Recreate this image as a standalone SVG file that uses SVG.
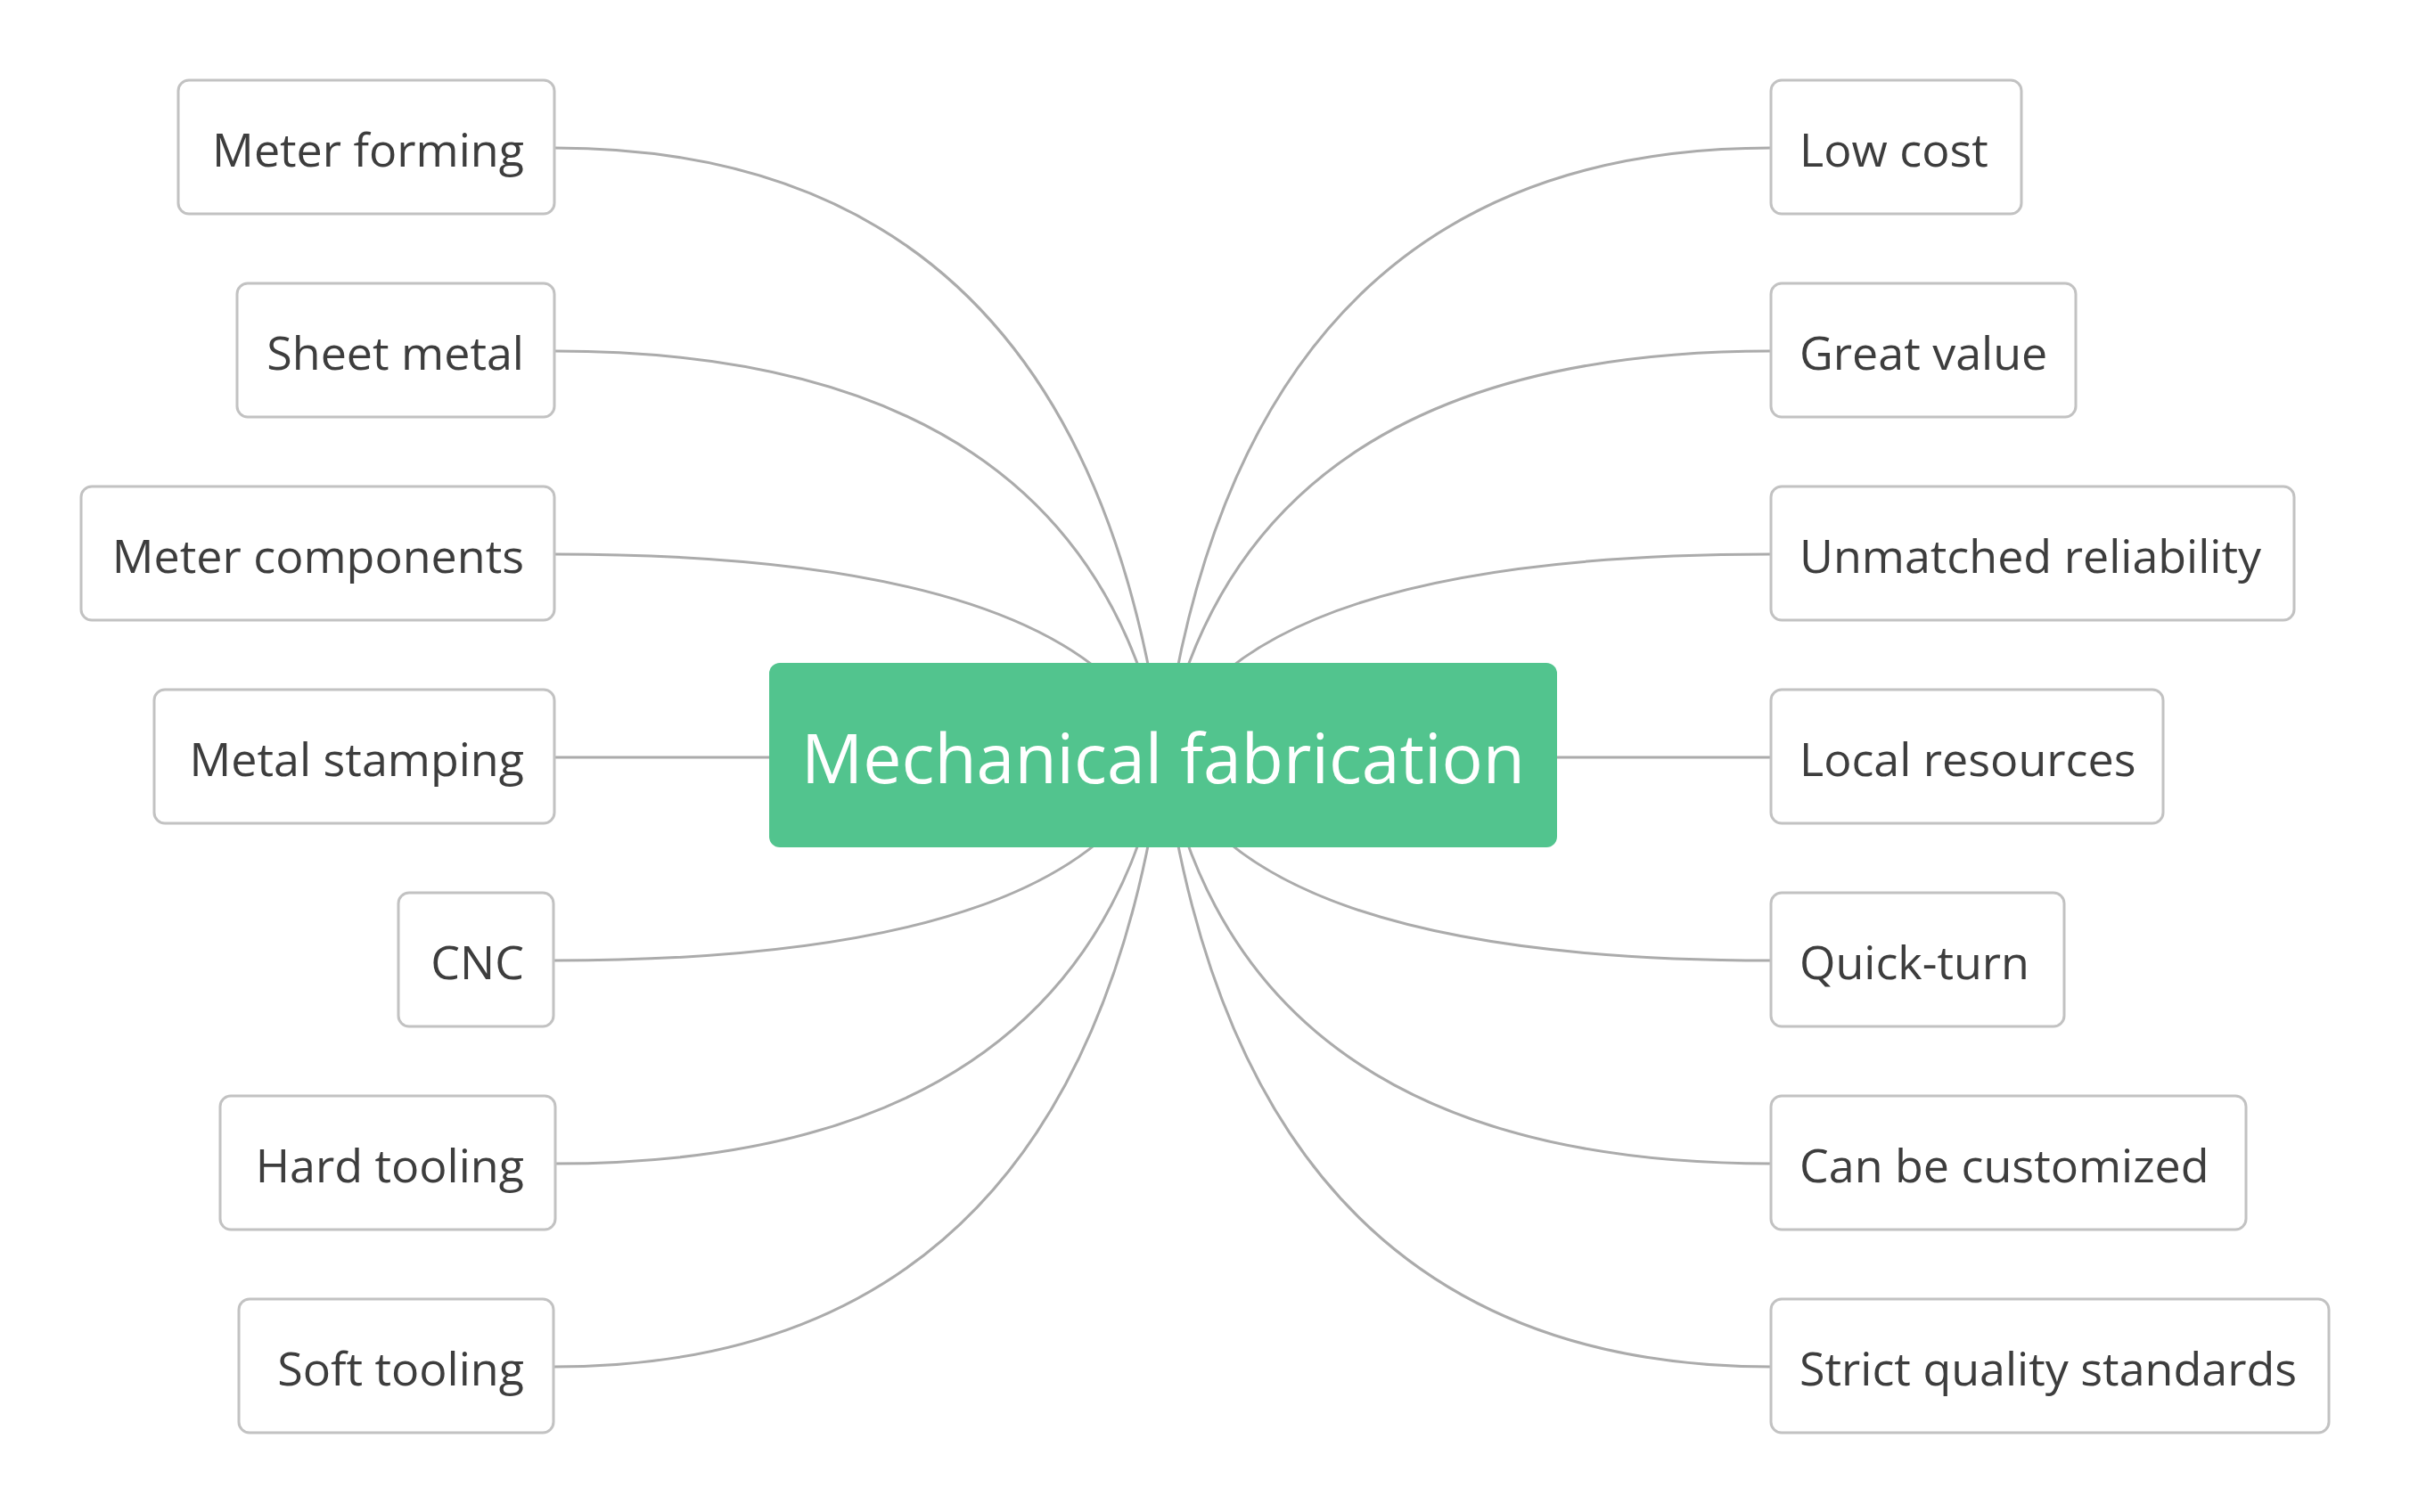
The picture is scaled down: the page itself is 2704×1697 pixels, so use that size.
<svg xmlns="http://www.w3.org/2000/svg" width="2704" height="1697" viewBox="0 0 2704 1697">
<style>
.bg{fill:#ffffff}
.box{fill:#ffffff;stroke:#c2c2c2;stroke-width:3}
.lbl{font-family:"Open Sans","Noto Sans","Liberation Sans",sans-serif;font-size:52px;fill:#3d3d3d}
.l{text-anchor:end}
.r{text-anchor:start}
.conn{fill:none;stroke:#ababab;stroke-width:3}
.root{fill:#52c48e}
.rootlbl{font-family:"Open Sans","Noto Sans","Liberation Sans",sans-serif;font-size:77px;fill:#ffffff;text-anchor:middle}
</style>
<rect class="bg" x="0" y="0" width="2704" height="1697"/>
<g id="connectors">
<path class="conn" d="M622,166 Q1215,166 1305,847"/>
<path class="conn" d="M622,394 Q1215,394 1305,847"/>
<path class="conn" d="M622,622 Q1215,622 1305,847"/>
<path class="conn" d="M622,850 L863,850"/>
<path class="conn" d="M622,1078 Q1215,1078 1305,847"/>
<path class="conn" d="M622,1306 Q1215,1306 1305,847"/>
<path class="conn" d="M622,1534 Q1215,1534 1305,847"/>
<path class="conn" d="M1987,166 Q1395,166 1305,847"/>
<path class="conn" d="M1987,394 Q1395,394 1305,847"/>
<path class="conn" d="M1987,622 Q1395,622 1305,847"/>
<path class="conn" d="M1747,850 L1987,850"/>
<path class="conn" d="M1987,1078 Q1395,1078 1305,847"/>
<path class="conn" d="M1987,1306 Q1395,1306 1305,847"/>
<path class="conn" d="M1987,1534 Q1395,1534 1305,847"/>
</g>
<g id="root">
<rect class="root" x="863" y="744" width="884" height="207" rx="12"/>
<text class="rootlbl" x="1305" y="879">Mechanical fabrication</text>
</g>
<g id="meter-forming"><rect class="box" x="200" y="90" width="422" height="150" rx="12"/><text class="lbl l" x="588" y="187">Meter forming</text></g>
<g id="sheet-metal"><rect class="box" x="266" y="318" width="356" height="150" rx="12"/><text class="lbl l" x="588" y="415">Sheet metal</text></g>
<g id="meter-components"><rect class="box" x="91" y="546" width="531" height="150" rx="12"/><text class="lbl l" x="588" y="643">Meter components</text></g>
<g id="metal-stamping"><rect class="box" x="173" y="774" width="449" height="150" rx="12"/><text class="lbl l" x="588" y="871">Metal stamping</text></g>
<g id="cnc"><rect class="box" x="447" y="1002" width="174" height="150" rx="12"/><text class="lbl l" x="588" y="1099">CNC</text></g>
<g id="hard-tooling"><rect class="box" x="247" y="1230" width="376" height="150" rx="12"/><text class="lbl l" x="588" y="1327">Hard tooling</text></g>
<g id="soft-tooling"><rect class="box" x="268" y="1458" width="353" height="150" rx="12"/><text class="lbl l" x="588" y="1555">Soft tooling</text></g>
<g id="low-cost"><rect class="box" x="1987" y="90" width="281" height="150" rx="12"/><text class="lbl r" x="2019" y="187">Low cost</text></g>
<g id="great-value"><rect class="box" x="1987" y="318" width="342" height="150" rx="12"/><text class="lbl r" x="2019" y="415">Great value</text></g>
<g id="unmatched-reliability"><rect class="box" x="1987" y="546" width="587" height="150" rx="12"/><text class="lbl r" x="2019" y="643">Unmatched reliability</text></g>
<g id="local-resources"><rect class="box" x="1987" y="774" width="440" height="150" rx="12"/><text class="lbl r" x="2019" y="871">Local resources</text></g>
<g id="quick-turn"><rect class="box" x="1987" y="1002" width="329" height="150" rx="12"/><text class="lbl r" x="2019" y="1099">Quick-turn</text></g>
<g id="can-be-customized"><rect class="box" x="1987" y="1230" width="533" height="150" rx="12"/><text class="lbl r" x="2019" y="1327">Can be customized</text></g>
<g id="strict-quality-standards"><rect class="box" x="1987" y="1458" width="626" height="150" rx="12"/><text class="lbl r" x="2019" y="1555">Strict quality standards</text></g>
</svg>
